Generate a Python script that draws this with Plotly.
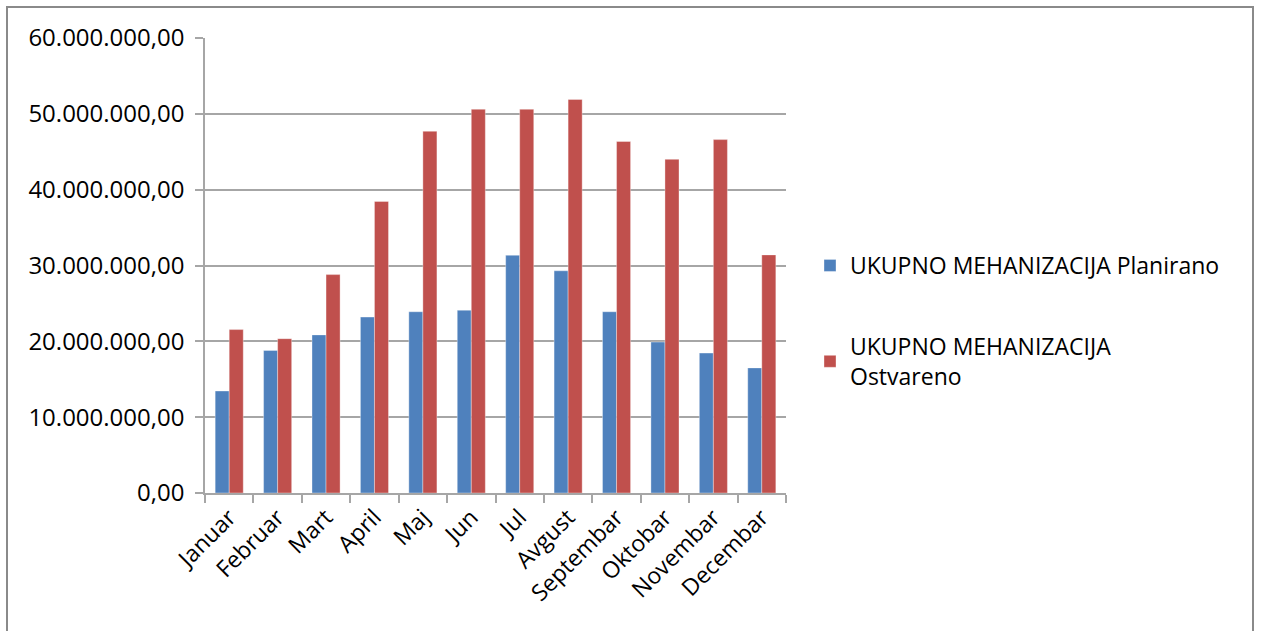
import plotly.graph_objects as go

# Monthly totals for machinery (planned vs. realised)
months = ["Januar", "Februar", "Mart", "April", "Maj", "Jun", "Jul",
          "Avgust", "Septembar", "Oktobar", "Novembar", "Decembar"]
planirano = [13.45e6, 18.8e6, 20.85e6, 23.2e6, 23.9e6, 24.1e6, 31.35e6,
             29.3e6, 23.9e6, 19.9e6, 18.45e6, 16.5e6]
ostvareno = [21.55e6, 20.35e6, 28.8e6, 38.45e6, 47.7e6, 50.6e6, 50.6e6,
             51.9e6, 46.35e6, 44.0e6, 46.6e6, 31.4e6]
series_names = ["UKUPNO MEHANIZACIJA Planirano",
                "UKUPNO MEHANIZACIJA<br>Ostvareno"]
y_tickvals = [0, 10e6, 20e6, 30e6, 40e6, 50e6, 60e6]
y_ticktext = ["0,00", "10.000.000,00", "20.000.000,00", "30.000.000,00",
              "40.000.000,00", "50.000.000,00", "60.000.000,00"]

FONT = "Open Sans"
GRID = "#a6a6a6"
W, H = 1261, 631
L, R, T, B = 205, 475, 38, 138

fig = go.Figure()
fig.add_trace(go.Bar(
    x=months, y=planirano, name=series_names[0], legendgroup="a",
    marker=dict(color="#4F81BD", line=dict(color="rgba(255,255,255,0.35)", width=1)),
))
fig.add_trace(go.Bar(
    x=months, y=ostvareno, name=series_names[1], legendgroup="b",
    marker=dict(color="#C0504D", line=dict(color="rgba(255,255,255,0.35)", width=1)),
))

pw = W - L - R
ph = H - T - B


def px_to_paper_x(px):
    return (px - L) / pw


def px_to_paper_y(py):
    return (H - B - py) / ph


fig.update_layout(
    width=W, height=H,
    margin=dict(l=L, r=R, t=T, b=B, pad=0),
    paper_bgcolor="white", plot_bgcolor="white",
    barmode="group", bargap=0.42, bargroupgap=0,
    font=dict(family=FONT, color="#000000"),
    legend=dict(
        x=px_to_paper_x(810), xanchor="left",
        y=px_to_paper_y(321), yanchor="middle",
        font=dict(family=FONT, size=23, color="#000000"),
        tracegroupgap=48, itemwidth=30,
        bgcolor="rgba(0,0,0,0)",
    ),
    xaxis=dict(
        showgrid=False, showline=True, linecolor=GRID, linewidth=1.5,
        ticks="outside", tickson="boundaries", ticklen=8, tickcolor=GRID,
        tickwidth=1.5, tickangle=-45,
        tickfont=dict(family=FONT, size=23, color="#000000"),
    ),
    yaxis=dict(
        range=[0, 60e6], tickvals=y_tickvals, ticktext=y_ticktext,
        showgrid=True, gridcolor=GRID, gridwidth=1.5,
        showline=True, linecolor=GRID, linewidth=1.5,
        ticks="outside", ticklen=8, tickcolor=GRID, tickwidth=1.5,
        ticklabelstandoff=6,
        tickfont=dict(family=FONT, size=24, color="#000000"),
        zeroline=False,
    ),
    shapes=[dict(
        type="rect", xref="paper", yref="paper", layer="above",
        x0=px_to_paper_x(7), x1=px_to_paper_x(1253),
        y0=px_to_paper_y(660), y1=px_to_paper_y(7),
        line=dict(color="#8a8a8a", width=2), fillcolor="rgba(0,0,0,0)",
    )],
)

fig.write_html("out.html")
